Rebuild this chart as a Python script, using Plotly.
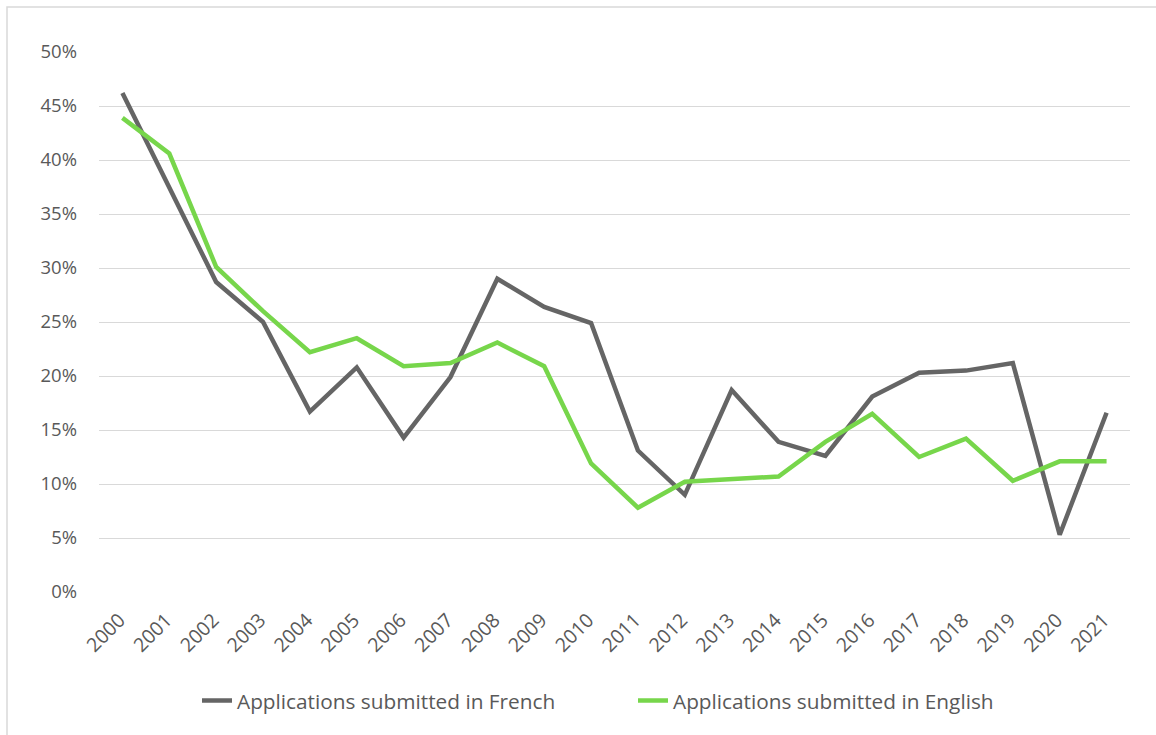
import plotly.graph_objects as go

years = [str(y) for y in range(2000, 2022)]
french = [46.2, 37.4, 28.7, 25.0, 16.7, 20.8, 14.3, 19.9, 29.0, 26.4, 24.9,
          13.1, 9.0, 18.7, 13.9, 12.6, 18.1, 20.3, 20.5, 21.2, 5.3, 16.6]
english = [43.9, 40.6, 30.1, 26.0, 22.2, 23.5, 20.9, 21.2, 23.1, 20.9, 11.9,
           7.8, 10.2, 10.5, 10.7, 13.9, 16.5, 12.5, 14.2, 10.3, 12.1, 12.1]
ytick_vals = [0, 5, 10, 15, 20, 25, 30, 35, 40, 45, 50]

W, H = 1156, 735
ML, MR, MT, MB = 99, 26, 52, 143
pw, ph = W - ML - MR, H - MT - MB

fig = go.Figure()
fig.add_trace(go.Scatter(x=years, y=[v / 100 for v in french], mode="lines",
                         name="Applications submitted in French",
                         line=dict(color="#656565", width=4.5)))
fig.add_trace(go.Scatter(x=years, y=[v / 100 for v in english], mode="lines",
                         name="Applications submitted in English",
                         line=dict(color="#77D64B", width=4.5)))

font_family = "Open Sans, Noto Sans, sans-serif"
fig.update_layout(
    width=W, height=H,
    margin=dict(l=ML, r=MR, t=MT, b=MB),
    paper_bgcolor="white", plot_bgcolor="white",
    font=dict(family=font_family, color="#595959", size=18),
    showlegend=True,
    legend=dict(orientation="h", x=(237 - 40 - ML) / pw, xanchor="left",
                y=(MT + ph - 701) / ph, yanchor="middle",
                font=dict(size=20.8, color="#595959"),
                entrywidth=391, entrywidthmode="pixels",
                tracegroupgap=0),
    xaxis=dict(type="category", range=[-0.5, 21.5], showgrid=False,
               showline=False, zeroline=False, ticks="", tickangle=-45,
               ticklabelstandoff=12, ticklabelshift=-3,
               tickfont=dict(size=19.5, color="#595959")),
    yaxis=dict(range=[0, 0.5], tickvals=[v / 100 for v in ytick_vals],
               tickformat=".0%", showgrid=True, gridcolor="#D9D9D9",
               gridwidth=1.3, zeroline=False, showline=False, ticks="",
               ticklabelstandoff=21,
               tickfont=dict(size=18.5, color="#595959")),
    shapes=[dict(type="rect", xref="paper", yref="paper",
                 x0=(7 - ML) / pw, x1=(1165 - ML) / pw,
                 y0=(MT + ph - 745) / ph, y1=(MT + ph - 7) / ph,
                 line=dict(color="#D9D9D9", width=1.5), layer="below")],
)

fig.write_html("out.html", config={"displayModeBar": False},
               post_script="document.body.style.margin='0px';")
